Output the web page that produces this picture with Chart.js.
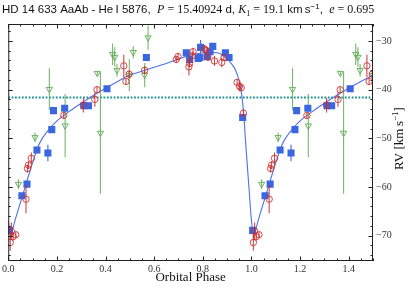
<!DOCTYPE html>
<html>
<head>
<meta charset="utf-8">
<script src="https://cdn.jsdelivr.net/npm/chart.js@4"></script>
<style>
  html, body { margin: 0; padding: 0; background: #fff; }
  #wrap { width: 415px; height: 288px; }
</style>
</head>
<body>
<div id="wrap"><canvas id="rvChart" width="415" height="288"></canvas></div>
<script>
// Radial velocity data (phase, RV km/s, error)
const bluePhase = [0.005, 0.056, 0.077, 0.118, 0.163, 0.179, 0.186, 0.232, 0.311, 0.330, 0.406, 0.568,
  0.732, 0.746, 0.781, 0.788, 0.791, 0.818, 0.830, 0.841, 0.893, 0.908, 0.964];
const blueRV = [-68.9, -61.8, -59.4, -52.4, -53.0, -48.2, -44.3, -43.8, -43.3, -43.3, -39.8, -33.4,
  -32.4, -33.8, -33.6, -33.4, -31.3, -33.2, -32.2, -31.1, -32.4, -33.4, -45.7];
const blueErr = [0.6, 0.5, 0.5, 0.5, 1.7, 0.5, 0.5, 0.5, 0.5, 0.5, 0.5, 0.5,
  0.5, 0.5, 0.5, 0.5, 1.5, 0.5, 0.5, 0.6, 0.5, 0.5, 0.5];

const redPhase = [0.008, 0.013, 0.020, 0.031, 0.073, 0.079, 0.083, 0.095, 0.228, 0.309, 0.356, 0.365,
  0.475, 0.484, 0.497, 0.561, 0.691, 0.698, 0.743, 0.746, 0.757, 0.760, 0.807, 0.814, 0.821, 0.848,
  0.878, 0.887, 0.941, 0.951, 0.958, 0.967];
const redRV = [-71.4, -69.1, -70.2, -69.8, -62.5, -56.2, -55.5, -54.1, -45.3, -43.2, -42.0, -40.0,
  -35.1, -38.3, -36.8, -36.0, -33.8, -33.2, -35.3, -34.6, -33.0, -32.2, -31.6, -31.9, -33.3, -34.1,
  -34.4, -33.4, -38.5, -39.3, -39.6, -44.8];
const redErr = [1.7, 1.8, 0.8, 0.6, 2.9, 0.8, 0.8, 1.2, 0.6, 1.5, 1.5, 0.6,
  2.3, 0.6, 0.8, 0.8, 0.7, 0.8, 1.8, 0.8, 0.8, 0.8, 0.8, 0.8, 0.7, 1.0,
  1.0, 0.7, 0.7, 1.0, 0.7, 0.6];

const greenPhase = [0.042, 0.110, 0.169, 0.234, 0.366, 0.379, 0.429, 0.438, 0.447, 0.498, 0.514, 0.561, 0.575];
const greenRV = [-59.4, -49.8, -39.9, -47.4, -36.6, -48.9, -32.7, -33.3, -36.0, -37.0, -32.3, -37.0, -29.3];
const greenErr = [1.0, 1.0, 4.3, 6.5, 0.4, 12.5, 2.2, 2.0, 1.3, 3.3, 1.3, 2.5, 2.5];

// orbital solution curve
const fitPhase = [0.0, 0.008, 0.012, 0.03, 0.05, 0.07, 0.09, 0.11, 0.125, 0.14, 0.16, 0.20, 0.25, 0.30,
  0.35, 0.40, 0.45, 0.50, 0.55, 0.60, 0.65, 0.70, 0.75, 0.80, 0.83, 0.86, 0.88, 0.90, 0.92, 0.935,
  0.95, 0.96, 0.97, 0.975, 0.99];
const fitRV = [-66.8, -69.6, -69.5, -66.5, -63.2, -59.9, -56.6, -53.5, -51.4, -50.0, -48.6, -46.4, -44.5, -42.8,
  -41.2, -39.7, -38.3, -37.0, -36.2, -35.4, -34.6, -33.7, -32.9, -32.4, -32.3, -32.4, -32.8, -33.6, -34.8, -36.0,
  -38.3, -41.0, -46.0, -50.0, -60.2];

const gammaRV = -41.6;
const xTicks = [0.0, 0.2, 0.4, 0.6, 0.8, 1.0, 1.2, 1.4];
const yTicks = [-70, -60, -50, -40, -30];

const X_MAX = 1.5;

// phases below 0.5 are shown a second time, one cycle later
function foldPoints(phases, values) {
  const pts = [];
  phases.forEach((p, i) => {
    pts.push({ x: p, y: values[i] });
    if (p + 1 <= X_MAX) pts.push({ x: p + 1, y: values[i] });
  });
  return pts.sort((a, b) => a.x - b.x);
}
function foldErrors(phases, values, errs) {
  const pts = [];
  phases.forEach((p, i) => {
    pts.push({ x: p, y: values[i], e: errs[i] });
    if (p + 1 <= X_MAX) pts.push({ x: p + 1, y: values[i], e: errs[i] });
  });
  return pts.sort((a, b) => a.x - b.x);
}

const serif = '"Liberation Serif", "DejaVu Serif", serif';
const sans = '"Liberation Sans", Arial, sans-serif';

// draws error bars, inward ticks, frame and the mixed-font titles
const decorPlugin = {
  id: 'decor',
  beforeDatasetDraw(chart, args) {
    const ds = chart.data.datasets[args.index];
    if (!ds.errors) return;
    const { ctx, chartArea } = chart;
    const xs = chart.scales.x, ys = chart.scales.y;
    ctx.save();
    ctx.beginPath();
    ctx.rect(chartArea.left, chartArea.top, chartArea.right - chartArea.left, chartArea.bottom - chartArea.top);
    ctx.clip();
    ctx.strokeStyle = ds.errColor;
    ctx.lineWidth = 1.1;
    ds.errors.forEach((p) => {
      const px = xs.getPixelForValue(p.x);
      ctx.beginPath();
      ctx.moveTo(px, ys.getPixelForValue(p.y - p.e));
      ctx.lineTo(px, ys.getPixelForValue(p.y + p.e));
      ctx.stroke();
    });
    ctx.restore();
  },
  afterDraw(chart) {
    const { ctx, chartArea: a } = chart;
    const xs = chart.scales.x, ys = chart.scales.y;
    ctx.save();
    ctx.strokeStyle = '#222';
    ctx.lineWidth = 1;
    ctx.strokeRect(a.left + 0.5, a.top + 0.5, a.right - a.left - 1, a.bottom - a.top - 1);

    // x ticks (major 0.2, minor 0.05), top and bottom, pointing in
    for (let v = 0; v <= X_MAX + 1e-9; v += 0.05) {
      const major = Math.abs(v / 0.2 - Math.round(v / 0.2)) < 1e-6;
      const len = major ? 4.5 : 2.5;
      const px = Math.round(xs.getPixelForValue(v)) + 0.5;
      ctx.beginPath();
      ctx.moveTo(px, a.bottom); ctx.lineTo(px, a.bottom - len);
      ctx.moveTo(px, a.top); ctx.lineTo(px, a.top + len);
      ctx.stroke();
    }
    // y ticks (major 10, minor 2), left and right
    for (let v = -74; v <= -28; v += 2) {
      const major = v % 10 === 0;
      const len = major ? 4.5 : 2.5;
      const py = Math.round(ys.getPixelForValue(v)) + 0.5;
      ctx.beginPath();
      ctx.moveTo(a.left, py); ctx.lineTo(a.left + len, py);
      ctx.moveTo(a.right, py); ctx.lineTo(a.right - len, py);
      ctx.stroke();
    }

    ctx.fillStyle = '#111';
    ctx.textBaseline = 'alphabetic';
    ctx.textAlign = 'left';
    // title with math parts
    const segs = [
      ['HD 14 633 AaAb - He\u2009I 5876,  ', '11.5px ' + sans, 0],
      ['P', 'italic 12px ' + serif, 0],
      [' = 15.40924', '12px ' + serif, 0],
      [' d, ', '11.5px ' + sans, 0],
      ['K', 'italic 12px ' + serif, 0],
      ['1', '8px ' + serif, 2.5],
      [' = 19.1', '12px ' + serif, 0],
      [' km\u2009s', '11.5px ' + sans, 0],
      ['\u22121', '8px ' + sans, -4],
      [',  ', '11.5px ' + sans, 0],
      ['e', 'italic 12px ' + serif, 0],
      [' = 0.695', '12px ' + serif, 0],
    ];
    let tx = 2;
    segs.forEach(([t, f, dy]) => {
      ctx.font = f;
      ctx.fillText(t, tx, 13 + dy);
      tx += ctx.measureText(t).width;
    });

    // x axis title
    ctx.textAlign = 'center';
    ctx.textBaseline = 'middle';
    ctx.font = '13px ' + serif;
    ctx.fillText('Orbital Phase', (a.left + a.right) / 2, 278);

    // y axis title, rotated, on the right
    const ySegs = [
      ['RV [km\u2009s', '13px ' + serif, 0],
      ['\u22121', '9px ' + serif, -4.5],
      [']', '13px ' + serif, 0],
    ];
    let w = 0;
    ySegs.forEach(([t, f]) => { ctx.font = f; w += ctx.measureText(t).width; });
    ctx.translate(400, (a.top + a.bottom) / 2 - 4);
    ctx.rotate(-Math.PI / 2);
    ctx.textAlign = 'left';
    ctx.textBaseline = 'middle';
    let yx = -w / 2;
    ySegs.forEach(([t, f, dy]) => {
      ctx.font = f;
      ctx.fillText(t, yx, dy);
      yx += ctx.measureText(t).width;
    });
    ctx.restore();
  },
};

const ctx = document.getElementById('rvChart').getContext('2d');
new Chart(ctx, {
  type: 'scatter',
  data: {
    datasets: [
      {
        type: 'line',
        data: [{ x: 0, y: gammaRV }, { x: X_MAX, y: gammaRV }],
        borderColor: '#1f8f8f',
        borderWidth: 2,
        borderDash: [1.8, 1.6],
        pointRadius: 0,
        order: 6,
      },
      {
        type: 'line',
        data: foldPoints(fitPhase, fitRV),
        borderColor: '#4d72e8',
        borderWidth: 1.1,
        pointRadius: 0,
        cubicInterpolationMode: 'monotone',
        order: 5,
      },
      {
        data: foldPoints(greenPhase, greenRV),
        errors: foldErrors(greenPhase, greenRV, greenErr),
        errColor: 'rgba(95,170,85,0.85)',
        pointStyle: 'triangle',
        rotation: 180,
        pointRadius: 3.6,
        borderWidth: 1,
        borderColor: 'rgba(95,170,85,0.9)',
        backgroundColor: 'rgba(0,0,0,0)',
        order: 4,
      },
      {
        data: foldPoints(bluePhase, blueRV),
        errors: foldErrors(bluePhase, blueRV, blueErr),
        errColor: '#3f6ae0',
        pointStyle: 'rect',
        pointRadius: 5,
        borderWidth: 0,
        backgroundColor: '#3a66e0',
        borderColor: '#3a66e0',
        order: 3,
      },
      {
        data: foldPoints(redPhase, redRV),
        errors: foldErrors(redPhase, redRV, redErr),
        errColor: 'rgba(200,40,40,0.85)',
        pointStyle: 'circle',
        pointRadius: 3.2,
        borderWidth: 1,
        borderColor: 'rgba(205,45,45,0.85)',
        backgroundColor: 'rgba(0,0,0,0)',
        order: 2,
      },
    ],
  },
  options: {
    responsive: false,
    animation: false,
    events: [],
    layout: { padding: { left: 8, top: 24, right: 0, bottom: 0 } },
    plugins: { legend: { display: false }, tooltip: { enabled: false }, title: { display: false } },
    scales: {
      x: {
        type: 'linear',
        position: 'bottom',
        min: 0,
        max: X_MAX,
        grid: { display: false, drawTicks: false },
        border: { display: false },
        ticks: {
          padding: 2,
          color: '#333',
          font: { family: serif, size: 10 },
          callback: (v) => Number(v).toFixed(1),
        },
        afterBuildTicks: (scale) => { scale.ticks = xTicks.map((v) => ({ value: v })); },
        afterFit: (scale) => { scale.height = 27; },
      },
      y: {
        type: 'linear',
        position: 'right',
        min: -75.2,
        max: -26.5,
        grid: { display: false, drawTicks: false },
        border: { display: false },
        ticks: {
          padding: 3,
          color: '#333',
          font: { family: serif, size: 10 },
          callback: (v) => '\u2212' + Math.abs(v),
        },
        afterBuildTicks: (scale) => { scale.ticks = yTicks.map((v) => ({ value: v })); },
        afterFit: (scale) => { scale.width = 42; },
      },
    },
  },
  plugins: [decorPlugin],
});
</script>
</body>
</html>
